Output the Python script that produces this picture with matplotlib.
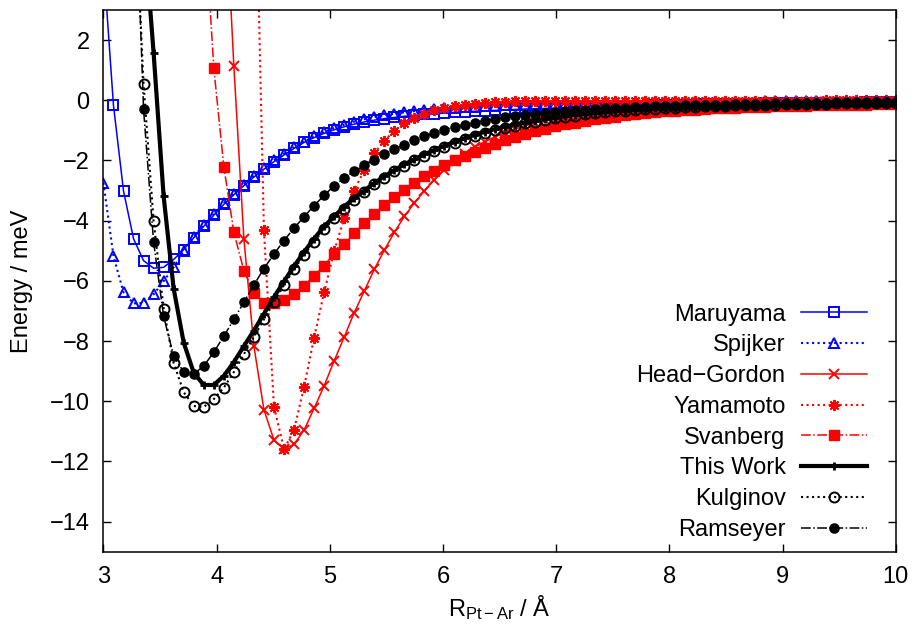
import numpy as np
import matplotlib
matplotlib.use("Agg")
import matplotlib.pyplot as plt

nan = np.nan
# sample grid (80 samples between 3 and 10 Angstrom)
r = np.linspace(3.0, 10.0, 80)

maruyama = [4.6, -0.17, -3.01, -4.60, -5.33, -5.58, -5.55, -5.29, -4.96, -4.57,
            -4.19, -3.82, -3.46, -3.14, -2.84, -2.55, -2.29, -2.04, -1.82, -1.60,
            -1.40, -1.24, -1.10, -0.98, -0.88, -0.79, -0.72, -0.66, -0.61, -0.57,
            -0.53, -0.50, -0.47, -0.44, -0.42, -0.40, -0.38, -0.365, -0.35, -0.335,
            -0.32, -0.305, -0.29, -0.28, -0.27, -0.26, -0.25, -0.24, -0.23, -0.22,
            -0.21, -0.20, -0.19, -0.18, -0.175, -0.17, -0.16, -0.155, -0.15, -0.14,
            -0.135, -0.13, -0.125, -0.12, -0.115, -0.11, -0.105, -0.10, -0.097, -0.094,
            -0.091, -0.088, -0.085, -0.082, -0.079, -0.076, -0.073, -0.07, -0.068, -0.066]

spijker = [-2.74, -5.18, -6.38, -6.75, -6.73, -6.45, -6.01, -5.55, -5.00, -4.55,
           -4.15, -3.78, -3.42, -3.10, -2.80, -2.50, -2.24, -1.99, -1.77, -1.56,
           -1.37, -1.20, -1.05, -0.92, -0.81, -0.71, -0.63, -0.56, -0.50, -0.45,
           -0.40, -0.36, -0.33, -0.30, -0.27, -0.25, -0.23, -0.21, -0.19, -0.18,
           -0.17, -0.16, -0.15, -0.14, -0.13, -0.12, -0.115, -0.11, -0.10, -0.095,
           -0.09, -0.085, -0.08, -0.075, -0.07, -0.067, -0.064, -0.061, -0.058, -0.055,
           -0.052, -0.05, -0.048, -0.046, -0.044, -0.042, -0.04, -0.038, -0.036, -0.035,
           -0.034, -0.033, -0.032, -0.031, -0.03, -0.029, -0.028, -0.027, -0.026, -0.025]

head_gordon = [nan, nan, nan, nan, nan, nan, nan, nan, nan, nan,
               nan, nan, 7.8, 1.15, -4.60, -8.17, -10.28, -11.29, -11.59, -11.43,
               -10.96, -10.24, -9.49, -8.66, -7.87, -7.06, -6.34, -5.62, -4.98, -4.39,
               -3.86, -3.41, -3.01, -2.64, -2.31, -2.03, -1.77, -1.56, -1.38, -1.22,
               -1.08, -0.96, -0.85, -0.75, -0.67, -0.59, -0.53, -0.47, -0.42, -0.38,
               -0.34, -0.31, -0.28, -0.25, -0.23, -0.21, -0.19, -0.17, -0.16, -0.15,
               -0.14, -0.13, -0.12, -0.11, -0.10, -0.095, -0.09, -0.085, -0.08, -0.075,
               -0.07, -0.066, -0.062, -0.058, -0.055, -0.052, -0.049, -0.046, -0.044, -0.042]

yamamoto = [nan, nan, nan, nan, nan, nan, nan, nan, nan, nan,
            nan, nan, nan, nan, nan, 10.3, -4.32, -10.18, -11.59, -10.96,
            -9.53, -7.89, -6.38, -5.02, -3.91, -3.00, -2.31, -1.75, -1.34, -1.02,
            -0.77, -0.58, -0.44, -0.33, -0.25, -0.19, -0.14, -0.11, -0.08, -0.06,
            -0.05, -0.04, -0.035, -0.03, -0.028, -0.026, -0.024, -0.022, -0.02, -0.019,
            -0.018, -0.017, -0.016, -0.015, -0.014, -0.013, -0.012, -0.012, -0.011, -0.011,
            -0.010, -0.010, -0.009, -0.009, -0.009, -0.008, -0.008, -0.008, -0.007, -0.007,
            -0.007, -0.007, -0.006, -0.006, -0.006, -0.006, -0.005, -0.005, -0.005, -0.005]

svanberg = [nan, nan, nan, nan, nan, nan, nan, nan, nan, nan,
            6.5, 1.08, -2.20, -4.38, -5.66, -6.40, -6.73, -6.73, -6.65, -6.45,
            -6.16, -5.84, -5.49, -5.10, -4.79, -4.42, -4.08, -3.77, -3.47, -3.20,
            -2.97, -2.75, -2.53, -2.34, -2.16, -1.99, -1.85, -1.72, -1.59, -1.46,
            -1.32, -1.21, -1.11, -1.02, -0.94, -0.87, -0.80, -0.74, -0.68, -0.63,
            -0.58, -0.54, -0.50, -0.46, -0.43, -0.40, -0.37, -0.35, -0.33, -0.31,
            -0.29, -0.27, -0.26, -0.245, -0.23, -0.22, -0.21, -0.20, -0.19, -0.18,
            -0.175, -0.17, -0.16, -0.155, -0.15, -0.145, -0.14, -0.135, -0.13, -0.125]

this_work = [nan, nan, nan, nan, 5.9, 1.58, -3.19, -6.26, -8.05, -9.05,
             -9.46, -9.46, -9.16, -8.70, -8.17, -7.65, -7.10, -6.54, -6.02, -5.51,
             -5.04, -4.60, -4.19, -3.86, -3.53, -3.25, -3.00, -2.75, -2.53, -2.32,
             -2.13, -1.96, -1.80, -1.65, -1.51, -1.38, -1.26, -1.15, -1.05, -0.96,
             -0.88, -0.81, -0.74, -0.68, -0.63, -0.58, -0.53, -0.49, -0.45, -0.42,
             -0.39, -0.36, -0.34, -0.31, -0.29, -0.27, -0.25, -0.24, -0.22, -0.21,
             -0.20, -0.19, -0.18, -0.17, -0.16, -0.15, -0.145, -0.14, -0.13, -0.125,
             -0.12, -0.115, -0.11, -0.105, -0.10, -0.095, -0.09, -0.088, -0.085, -0.08]

kulginov = [nan, nan, nan, 7.8, 0.53, -4.00, -6.92, -8.73, -9.70, -10.16,
            -10.19, -9.93, -9.55, -9.03, -8.44, -7.86, -7.28, -6.70, -6.14, -5.62,
            -5.14, -4.70, -4.29, -3.92, -3.60, -3.31, -3.04, -2.79, -2.57, -2.36,
            -2.17, -2.00, -1.84, -1.69, -1.55, -1.42, -1.30, -1.19, -1.09, -1.00,
            -0.92, -0.84, -0.77, -0.71, -0.65, -0.60, -0.55, -0.51, -0.47, -0.43,
            -0.40, -0.37, -0.34, -0.32, -0.30, -0.28, -0.26, -0.24, -0.23, -0.21,
            -0.20, -0.19, -0.18, -0.17, -0.16, -0.15, -0.145, -0.14, -0.13, -0.125,
            -0.12, -0.115, -0.11, -0.105, -0.10, -0.095, -0.09, -0.087, -0.084, -0.08]

ramseyer = [nan, nan, nan, 9.0, -0.30, -4.71, -7.18, -8.50, -9.03, -9.10,
            -8.83, -8.37, -7.84, -7.28, -6.71, -6.14, -5.59, -5.11, -4.66, -4.25,
            -3.87, -3.50, -3.16, -2.84, -2.58, -2.36, -2.16, -1.97, -1.79, -1.62,
            -1.47, -1.33, -1.20, -1.08, -0.98, -0.89, -0.81, -0.74, -0.68, -0.62,
            -0.57, -0.53, -0.49, -0.45, -0.42, -0.39, -0.36, -0.33, -0.31, -0.29,
            -0.27, -0.25, -0.24, -0.22, -0.21, -0.20, -0.19, -0.18, -0.17, -0.16,
            -0.15, -0.145, -0.14, -0.13, -0.12, -0.115, -0.11, -0.105, -0.10, -0.097,
            -0.094, -0.091, -0.088, -0.085, -0.082, -0.079, -0.076, -0.073, -0.07, -0.068]

labels = ["Maruyama", "Spijker", "Head\u2212Gordon", "Yamamoto", "Svanberg",
          "This Work", "Kulginov", "Ramseyer"]
x_ticks = [3, 4, 5, 6, 7, 8, 9, 10]
y_ticks = [-14, -12, -10, -8, -6, -4, -2, 0, 2]

plt.rcParams['font.family'] = ['Liberation Sans', 'DejaVu Sans']
plt.rcParams['font.size'] = 17
plt.rcParams['axes.unicode_minus'] = True
plt.rcParams['mathtext.fontset'] = 'custom'
plt.rcParams['mathtext.rm'] = 'Liberation Sans'
plt.rcParams['mathtext.it'] = 'Liberation Sans:italic'

fig = plt.figure(figsize=(9.13, 6.26), dpi=100)
ax = fig.add_axes([0.1133, 0.1187, 0.8679, 0.8653])

blue = (0, 0, 1)
red = (1, 0, 0)
k = (0, 0, 0)

styles = [
    dict(color=blue, ls='-', lw=1.1, marker='s', ms=6.6, mfc='none', mew=1.4),
    dict(color=blue, ls=':', lw=1.5, marker='^', ms=7.2, mfc='none', mew=1.4),
    dict(color=red, ls='-', lw=1.1, marker='x', ms=7.4, mew=1.4),
    dict(color=red, ls=':', lw=1.5, marker=(8, 2, 0), ms=8.0, mew=1.4),
    dict(color=red, ls='-.', lw=1.1, marker='s', ms=6.8, mfc=red, mew=1.0),
    dict(color=k, ls='-', lw=3.0, marker='+', ms=5.5, mew=2.0),
    dict(color=k, ls=':', lw=1.5, marker='o', ms=7.2, mfc='none', mew=1.4),
    dict(color=k, ls='-.', lw=1.1, marker='o', ms=6.6, mfc=k, mew=1.0),
]
series = [maruyama, spijker, head_gordon, yamamoto, svanberg, this_work, kulginov, ramseyer]
for ys, lab, st in zip(series, labels, styles):
    ax.plot(r, ys, label=lab, **st)

ax.set_xlim(3, 10)
ax.set_ylim(-15, 3)
ax.set_xticks(x_ticks)
ax.set_yticks(y_ticks)
ax.tick_params(direction='in', length=6, width=1.0, top=True, right=True, pad=10)
for s in ax.spines.values():
    s.set_linewidth(1.1)

ax.set_xlabel("R$_{\\mathrm{Pt\u2212Ar}}$ / \u00c5", labelpad=4)
ax.set_ylabel("Energy / meV", labelpad=12)

leg = ax.legend(loc='lower right', bbox_to_anchor=(0.9636, 0.02), frameon=False,
                markerfirst=False, numpoints=1, handlelength=2.8, handletextpad=0.65,
                labelspacing=0.37, borderpad=0, borderaxespad=0)
for col in leg._legend_handle_box.get_children():
    col.align = "right"

fig.savefig("out.png", dpi=100)
